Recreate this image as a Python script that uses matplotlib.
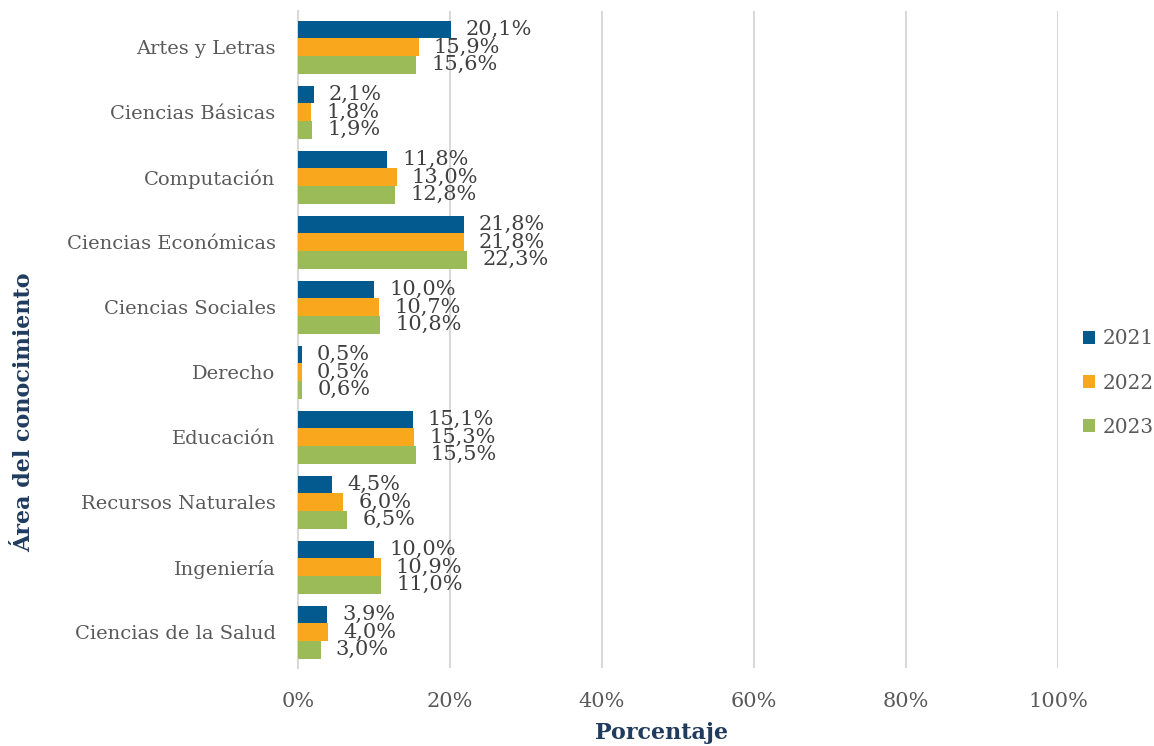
import numpy as np
import matplotlib.pyplot as plt

areas = ['Artes y Letras', 'Ciencias Básicas', 'Computación', 'Ciencias Económicas',
         'Ciencias Sociales', 'Derecho', 'Educación', 'Recursos Naturales',
         'Ingeniería', 'Ciencias de la Salud']
y2021 = [20.1, 2.1, 11.8, 21.8, 10.0, 0.5, 15.1, 4.5, 10.0, 3.9]
y2022 = [15.9, 1.8, 13.0, 21.8, 10.7, 0.5, 15.3, 6.0, 10.9, 4.0]
y2023 = [15.6, 1.9, 12.8, 22.3, 10.8, 0.6, 15.5, 6.5, 11.0, 3.0]
years = ['2021', '2022', '2023']
colors = ['#035A8E', '#F9A81D', '#9BBB59']

plt.rcParams['font.family'] = 'DejaVu Serif'

fig = plt.figure(figsize=(11.54, 7.46), dpi=100)
ax = fig.add_axes([0.258, 0.1046, 0.659, 0.88])

n = len(areas)
pos = np.arange(n)[::-1]
h = 0.27
for i, (vals, lab, c) in enumerate(zip([y2021, y2022, y2023], years, colors)):
    yy = pos + h * (1 - i)
    ax.barh(yy, vals, height=h, color=c, label=lab, zorder=3)
    for y, v in zip(yy, vals):
        ax.text(v + 2.0, y, f'{v:.1f}%'.replace('.', ','), va='center', ha='left',
                fontsize=15, color='#404040', zorder=4)

ax.set_xlim(0, 100)
ax.set_ylim(-0.55, n - 0.45)
ax.set_xticks(range(0, 101, 20))
ax.set_xticklabels([f'{t}%' for t in range(0, 101, 20)])
ax.set_yticks(pos)
ax.set_yticklabels(areas)
ax.tick_params(axis='both', length=0, labelcolor='#595959')
ax.tick_params(axis='x', pad=17, labelsize=15)
ax.tick_params(axis='y', pad=16, labelsize=14)
ax.grid(axis='x', color='#D9D9D9', lw=1.5, zorder=0)
for s in ['top', 'right', 'bottom']:
    ax.spines[s].set_visible(False)
ax.spines['left'].set_color('#D9D9D9')
ax.spines['left'].set_linewidth(1.5)

ax.set_xlabel('Porcentaje', fontsize=16, fontweight='bold', color='#1F3B5E')
ax.set_ylabel('Área del conocimiento', fontsize=16, fontweight='bold', color='#1F3B5E')
ax.xaxis.set_label_coords(0.479, -0.082)
ax.yaxis.set_label_coords(-0.345, 0.389)

leg = ax.legend(loc='center left', bbox_to_anchor=(1.03, 0.434), frameon=False,
                fontsize=14.5, handlelength=0.6, handleheight=0.6, labelspacing=1.25,
                handletextpad=0.4, borderaxespad=0, borderpad=0.1)
for t in leg.get_texts():
    t.set_color('#595959')

fig.savefig('out.png', dpi=100)
